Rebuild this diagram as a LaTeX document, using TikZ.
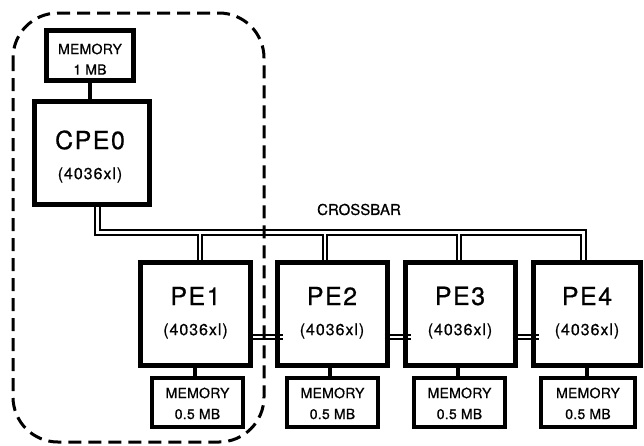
\documentclass[tikz,border=0pt]{standalone}
\usepackage{fontspec}
\setmainfont{TeX Gyre Heros}[FakeBold=0.6]
\newfontfamily\trackfont[LetterSpace=6,FakeBold=0.7]{TeX Gyre Heros}
\newfontfamily\memfont[LetterSpace=2,FakeBold=0.7]{TeX Gyre Heros}
\usetikzlibrary{backgrounds}
\begin{document}
\begin{tikzpicture}[x=1pt,y=-1pt,
  pebox/.style={draw,line width=5pt,fill=white,minimum width=110pt,minimum height=103pt,inner sep=0pt},
  cpebox/.style={draw,line width=5.5pt,fill=white,minimum width=115pt,minimum height=103pt,inner sep=0pt},
  membox/.style={draw,line width=4.5pt,fill=white,minimum width=91pt,minimum height=49pt,inner sep=0pt},
  mem0box/.style={draw,line width=5pt,fill=white,minimum width=87pt,minimum height=50pt,inner sep=0pt},
  bigtxt/.style={inner sep=0pt,font=\trackfont\fontsize{25}{25}\selectfont},
  subtxt/.style={inner sep=0pt,font=\trackfont\fontsize{16}{16}\selectfont},
  memtxt/.style={inner sep=0pt,font=\memfont\fontsize{14}{14}\selectfont},
  xbtxt/.style={inner sep=0pt,font=\fontsize{15}{15}\selectfont},
  memlink/.style={line width=3.5pt},
  pelink/.style={line width=1.6pt},
  groupline/.style={line width=3pt,dash pattern=on 13pt off 7pt,rounded corners=45pt}
]
\useasboundingbox (0,0) rectangle (644,445);

% boxes
\node[mem0box] (mem0) at (90,55) {};
\node[cpebox] (cpe0) at (92,153) {};
\node[pebox] (pe1) at (195.5,314) {};
\node[pebox] (pe2) at (332,314) {};
\node[pebox] (pe3) at (460,314) {};
\node[pebox,minimum width=107pt] (pe4) at (587,314) {};
\node[membox] (mem1) at (197.5,402.5) {};
\node[membox] (mem2) at (332.5,402.5) {};
\node[membox] (mem3) at (459.5,402.5) {};
\node[membox,minimum width=94pt] (mem4) at (588,402.5) {};

% texts
\node[memtxt] (mem0a) at (90,49) {MEMORY};
\node[memtxt] (mem0b) at (90,69.5) {1 MB};
\node[bigtxt] (cpe0a) at (90,140) {CPE0};
\node[subtxt] (cpe0b) at (90,175) {(4036xl)};
\foreach \n/\x in {1/195.5,2/332,3/460,4/587}{
  \node[bigtxt] (pe\n a) at (\x,296) {PE\n};
  \node[subtxt] (pe\n b) at (\x,331) {(4036xl)};
}
\foreach \n/\x in {1/197.5,2/332.5,3/459.5,4/588}{
  \node[memtxt] (mem\n a) at (\x,393) {MEMORY};
  \node[memtxt] (mem\n b) at (\x,414) {0.5 MB};
}
\node[xbtxt] (xblabel) at (359,209.5) {CROSSBAR};

% connectors behind boxes
\begin{scope}[on background layer]
\coordinate (xb) at (0,232.5);
\foreach \w/\c in {6.5/black,2.8/white}{
  \draw[line width=\w pt,\c] ([xshift=5.5pt]cpe0.south) |- ([xshift=-3.5pt]pe4.north |- xb) -- ([xshift=-3.5pt]pe4.north);
  \draw[line width=\w pt,\c] ([xshift=4.5pt]pe1.north |- xb) -- ([xshift=4.5pt]pe1.north);
  \draw[line width=\w pt,\c] ([xshift=-7pt]pe2.north |- xb) -- ([xshift=-7pt]pe2.north);
  \draw[line width=\w pt,\c] ([xshift=-1pt]pe3.north |- xb) -- ([xshift=-1pt]pe3.north);
}
\draw[memlink] (mem0.south) -- (mem0.south |- cpe0.north);
\foreach \n/\dx in {1/-0.5,2/-2,3/-2,4/0}{
  \draw[memlink] ([xshift=\dx pt]pe\n.south) -- ([xshift=\dx pt]pe\n.south |- mem\n.north);
}
\end{scope}

% links between PEs
\foreach \a/\b in {pe1/pe2,pe2/pe3,pe3/pe4}{
  \draw[pelink] ([xshift=-5pt,yshift=-21pt]\a.east) -- ([xshift=8pt,yshift=-21pt]\b.west);
  \draw[pelink] ([xshift=-5pt,yshift=-25pt]\a.east) -- ([xshift=8pt,yshift=-25pt]\b.west);
}

% group boundary
\draw[groupline] (13,13) rectangle (264,442);
\end{tikzpicture}
\end{document}
